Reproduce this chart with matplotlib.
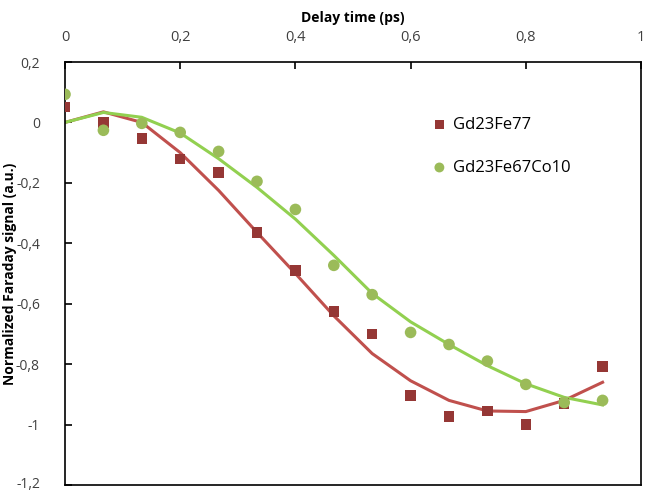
import matplotlib
matplotlib.use("Agg")
import matplotlib.pyplot as plt
from matplotlib.ticker import FixedLocator
from matplotlib.transforms import ScaledTranslation

delay = [0, 0.0667, 0.1333, 0.2, 0.2667, 0.3333, 0.4, 0.4667, 0.5333, 0.6, 0.6667, 0.7333, 0.8, 0.8667, 0.9333]
gdfe_pts = [0.05, 0.0, -0.053, -0.122, -0.166, -0.364, -0.49, -0.626, -0.70, -0.904, -0.973, -0.954, -1.0, -0.93, -0.808]
gdfeco_pts = [0.093, -0.026, -0.003, -0.033, -0.096, -0.195, -0.288, -0.473, -0.57, -0.695, -0.735, -0.79, -0.867, -0.927, -0.92]
gdfe_fit = [0.0, 0.035, 0.0, -0.10, -0.225, -0.364, -0.50, -0.64, -0.765, -0.855, -0.92, -0.955, -0.957, -0.92, -0.86]
gdfeco_fit = [0.0, 0.033, 0.017, -0.035, -0.12, -0.215, -0.32, -0.44, -0.566, -0.66, -0.735, -0.805, -0.865, -0.91, -0.935]
xticks = [0, 0.2, 0.4, 0.6, 0.8, 1.0]
xticklabels = ["0", "0,2", "0,4", "0,6", "0,8", "1"]
yticks = [0.2, 0.0, -0.2, -0.4, -0.6, -0.8, -1.0, -1.2]
yticklabels = ["0,2", "0", "-0,2", "-0,4", "-0,6", "-0,8", "-1", "-1,2"]

plt.rcParams['font.family'] = ['Open Sans', 'DejaVu Sans']

fig = plt.figure(figsize=(6.45, 4.92), dpi=100)
ax = fig.add_axes([65/645, 1 - 485/492, (641 - 65)/645, (485 - 62)/492])

ax.plot(delay, gdfe_fit, color='#C0504D', lw=2.2, zorder=2)
ax.plot(delay, gdfeco_fit, color='#92D050', lw=2.2, zorder=2)
ax.scatter(delay, gdfe_pts, marker='s', s=55, color='#953735', label='Gd23Fe77', zorder=3, edgecolors='none')
ax.scatter(delay, gdfeco_pts, marker='o', s=70, color='#9BBB59', label='Gd23Fe67Co10', zorder=3, edgecolors='none')

ax.set_xlim(0, 1)
ax.set_ylim(-1.2, 0.2)
ax.xaxis.tick_top()
ax.xaxis.set_label_position('top')
ax.xaxis.set_major_locator(FixedLocator(xticks))
ax.set_xticklabels(xticklabels)
ax.yaxis.set_major_locator(FixedLocator(yticks))
ax.set_yticklabels(yticklabels)
ax.tick_params(axis='x', direction='in', length=5, width=1.2, labelsize=10.5, pad=12, colors='black', labelcolor='#404040')
ax.tick_params(axis='y', direction='in', length=5, width=1.2, labelsize=10, pad=18, colors='black', labelcolor='#404040')
for s in ax.spines.values():
    s.set_linewidth(1.2)
    s.set_color('black')

last = ax.get_yticklabels()[-1]
last.set_transform(last.get_transform() + ScaledTranslation(0, 3/100, fig.dpi_scale_trans))

ax.set_xlabel('Delay time (ps)', fontsize=10, fontweight='bold', labelpad=6)
ax.set_ylabel('Normalized Faraday signal (a.u.)', fontsize=10, fontweight='bold')
ax.yaxis.set_label_coords(-0.083, 0.50)

leg = ax.legend(loc='upper left', bbox_to_anchor=(0.595, 0.905), frameon=False, fontsize=12,
                handletextpad=-0.2, labelspacing=1.6, markerscale=0.85)

fig.savefig('out.png', dpi=100)
